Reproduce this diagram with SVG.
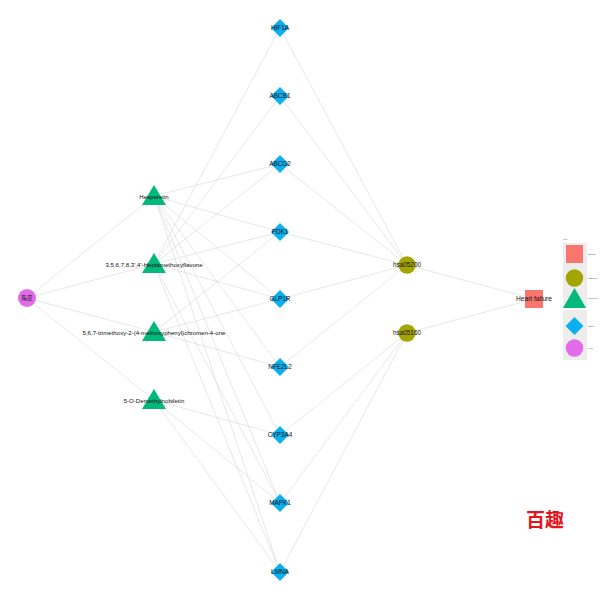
<svg xmlns="http://www.w3.org/2000/svg" width="600" height="600" viewBox="0 0 600 600">
<style>
.e{stroke:#dcdcdc;stroke-width:0.7;fill:none}
.t{font-family:"Liberation Sans",Arial,sans-serif;font-size:6.4px;fill:#111;text-anchor:middle}
.c{font-family:"Liberation Sans",Arial,sans-serif;font-size:6.1px;fill:#111;text-anchor:middle}
.tg{fill:#0DB0EE}
.tri{fill:#00B97A}
.pw{fill:#A3A500}
.lg{font-family:"Liberation Sans",Arial,sans-serif;font-size:2.2px;fill:#444}
</style>
<rect width="600" height="600" fill="#fff"/>
<g id="edges">
<line class="e" x1="27" y1="298" x2="154" y2="196"/>
<line class="e" x1="27" y1="298" x2="154" y2="264"/>
<line class="e" x1="27" y1="298" x2="154" y2="332"/>
<line class="e" x1="27" y1="298" x2="154" y2="400"/>
<line class="e" x1="154" y1="196" x2="280" y2="164"/>
<line class="e" x1="154" y1="196" x2="280" y2="232"/>
<line class="e" x1="154" y1="196" x2="280" y2="299"/>
<line class="e" x1="154" y1="196" x2="280" y2="367"/>
<line class="e" x1="154" y1="196" x2="280" y2="435"/>
<line class="e" x1="154" y1="196" x2="280" y2="503"/>
<line class="e" x1="154" y1="196" x2="280" y2="572"/>
<line class="e" x1="154" y1="264" x2="280" y2="28"/>
<line class="e" x1="154" y1="264" x2="280" y2="96"/>
<line class="e" x1="154" y1="264" x2="280" y2="164"/>
<line class="e" x1="154" y1="264" x2="280" y2="232"/>
<line class="e" x1="154" y1="264" x2="280" y2="299"/>
<line class="e" x1="154" y1="264" x2="280" y2="503"/>
<line class="e" x1="154" y1="264" x2="280" y2="572"/>
<line class="e" x1="154" y1="332" x2="280" y2="232"/>
<line class="e" x1="154" y1="332" x2="280" y2="299"/>
<line class="e" x1="154" y1="332" x2="280" y2="367"/>
<line class="e" x1="154" y1="400" x2="280" y2="435"/>
<line class="e" x1="154" y1="400" x2="280" y2="503"/>
<line class="e" x1="154" y1="400" x2="280" y2="572"/>
<line class="e" x1="280" y1="28" x2="407" y2="265"/>
<line class="e" x1="280" y1="96" x2="407" y2="265"/>
<line class="e" x1="280" y1="164" x2="407" y2="265"/>
<line class="e" x1="280" y1="232" x2="407" y2="265"/>
<line class="e" x1="280" y1="299" x2="407" y2="265"/>
<line class="e" x1="280" y1="367" x2="407" y2="265"/>
<line class="e" x1="280" y1="435" x2="407" y2="333"/>
<line class="e" x1="280" y1="503" x2="407" y2="333"/>
<line class="e" x1="280" y1="572" x2="407" y2="333"/>
<line class="e" x1="407" y1="265" x2="534" y2="299"/>
<line class="e" x1="407" y1="333" x2="534" y2="299"/>
</g>
<g id="n-chenpi"><circle cx="27" cy="298" r="9" fill="#E26BEA"/><text class="t" x="27" y="300" style="font-size:5.5px;font-family:'Noto Sans CJK SC',sans-serif">陈皮</text></g>
<g id="n-hesperetin"><polygon class="tri" points="154,185 166,205 142,205"/><text class="c" x="154" y="199">Hesperetin</text></g>
<g id="n-hepta"><polygon class="tri" points="154,253 166,273 142,273"/><text class="c" x="154" y="267">3,5,6,7,8,3',4'-Heptamethoxyflavone</text></g>
<g id="n-trimethoxy"><polygon class="tri" points="154,321 166,341 142,341"/><text class="c" x="154" y="335">5,6,7-trimethoxy-2-(4-methoxyphenyl)chromen-4-one</text></g>
<g id="n-demethyl"><polygon class="tri" points="154,389 166,409 142,409"/><text class="c" x="154" y="403">5-O-Demethylnobiletin</text></g>
<g id="n-HIF1A"><polygon class="tg" points="280,19 289,28 280,37 271,28"/><text class="t" x="280" y="30">HIF1A</text></g>
<g id="n-ABCB1"><polygon class="tg" points="280,87 289,96 280,105 271,96"/><text class="t" x="280" y="98">ABCB1</text></g>
<g id="n-ABCG2"><polygon class="tg" points="280,155 289,164 280,173 271,164"/><text class="t" x="280" y="166">ABCG2</text></g>
<g id="n-PDK1"><polygon class="tg" points="280,223 289,232 280,241 271,232"/><text class="t" x="280" y="234">PDK1</text></g>
<g id="n-GLP1R"><polygon class="tg" points="280,290 289,299 280,308 271,299"/><text class="t" x="280" y="301">GLP1R</text></g>
<g id="n-NFE2L2"><polygon class="tg" points="280,358 289,367 280,376 271,367"/><text class="t" x="280" y="369">NFE2L2</text></g>
<g id="n-CYP3A4"><polygon class="tg" points="280,426 289,435 280,444 271,435"/><text class="t" x="280" y="437">CYP3A4</text></g>
<g id="n-MAPK1"><polygon class="tg" points="280,494 289,503 280,512 271,503"/><text class="t" x="280" y="505">MAPK1</text></g>
<g id="n-LMNA"><polygon class="tg" points="280,563 289,572 280,581 271,572"/><text class="t" x="280" y="574">LMNA</text></g>
<g id="n-hsa05200"><circle class="pw" cx="407" cy="265" r="8.7"/><text class="t" x="407" y="267">hsa05200</text></g>
<g id="n-hsa05160"><circle class="pw" cx="407" cy="333" r="8.7"/><text class="t" x="407" y="335">hsa05160</text></g>
<g id="n-heartfailure"><rect x="525" y="290" width="18" height="18" fill="#F8766D"/><text class="t" x="534" y="301" style="font-size:6.6px">Heart failure</text></g>
<g id="legend">
<text class="lg" x="563" y="240">Type</text>
<rect x="563" y="243" width="24" height="65" fill="#EDEDED"/>
<rect x="563" y="310" width="24" height="50" fill="#EDEDED"/>
<rect x="566" y="245" width="17" height="18" fill="#F8766D"/>
<circle class="pw" cx="574.5" cy="278" r="8.7"/>
<polygon class="tri" points="574.5,288 586,308 563,308"/>
<polygon class="tg" points="574.5,317 583.5,326 574.5,335 565.5,326"/>
<circle cx="574.5" cy="348" r="8.7" fill="#E26BEA"/>
<text class="lg" x="588" y="255">Disease</text>
<text class="lg" x="588" y="279">Path way</text>
<text class="lg" x="588" y="299">Molecules</text>
<text class="lg" x="588" y="327">Target</text>
<text class="lg" x="588" y="349">Herb</text>
</g>
<text x="545" y="527" text-anchor="middle" style="font-family:'Noto Sans CJK SC',sans-serif;font-size:19px;font-weight:bold;fill:#E5141B">百趣</text>
</svg>
